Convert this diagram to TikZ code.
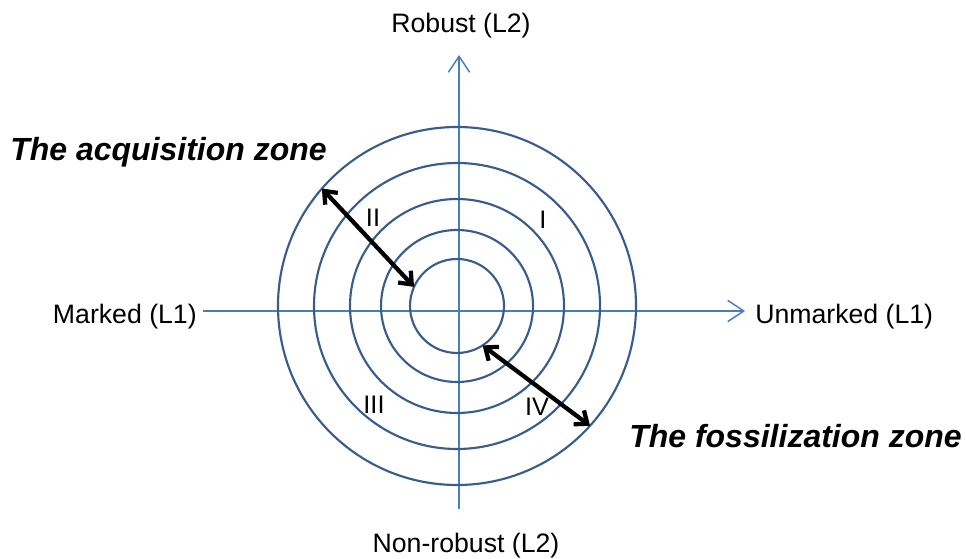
\documentclass[tikz,border=0pt]{standalone}
\usepackage{fontspec}
\setmainfont{Liberation Sans}
\usetikzlibrary{arrows.meta}
\definecolor{axisblue}{HTML}{4A7EBB}
\definecolor{ringblue}{HTML}{385D8A}

\begin{document}
\begin{tikzpicture}[x=0.75pt,y=0.75pt]
\tikzstyle{ring}=[circle,draw=ringblue,line width=1.6pt,inner sep=0pt,outer sep=0pt]
\tikzstyle{axis}=[draw=axisblue,line width=1.1pt,-{Straight Barb[length=12pt,width=16pt,line width=1.1pt]}]
\tikzstyle{zone}=[black,line width=3.2pt,{Straight Barb[length=8pt,width=13pt]}-{Straight Barb[length=8pt,width=13pt]}]
\tikzstyle{lbl}=[inner sep=0pt,font=\fontsize{20}{24}\selectfont]
\tikzstyle{num}=[inner sep=0pt,font=\fontsize{19}{22}\selectfont]
\tikzstyle{title}=[inner sep=0pt,font=\fontsize{24}{28}\selectfont\bfseries\itshape]
\useasboundingbox (0,0) rectangle (966,559);
% axes
\coordinate (west) at (203,248);
\coordinate (east) at (745,248);
\coordinate (south) at (459,50);
\coordinate (north) at (459,504);
\draw[axis] (west) -- (east);
\draw[axis] (south) -- (north);
% rings
\coordinate (O) at (457,253);
\node[ring,minimum size=268.5pt] (ring5) at (O) {};
\node[ring,minimum size=214.5pt] (ring4) at (O) {};
\node[ring,minimum size=160.5pt] (ring3) at (O) {};
\node[ring,minimum size=114pt] (ring2) at (O) {};
\node[ring,minimum size=70.5pt] (ring1) at (O) {};
% labels
\node[lbl,anchor=base] (robust) at (461,526) {Robust (L2)};
\node[lbl,anchor=base] (nonrobust) at (466,6) {Non-robust (L2)};
\node[lbl,anchor=base east] (marked) at (197,235) {Marked (L1)};
\node[lbl,anchor=base west] (unmarked) at (755,235) {Unmarked (L1)};
\node[num] (q1) at (543,339) {I};
\node[num] (q2) at (373,341) {II};
\node[num] (q3) at (374,154) {III};
\node[num] (q4) at (537,152) {IV};
% zones
\node[title,anchor=base west] (acq) at (10,398) {The acquisition zone};
\node[title,anchor=base east] (fos) at (962,111) {The fossilization zone};
\draw[zone] (ring5.139) -- (ring1.156);
\draw[zone] (ring1.-57) -- (ring5.-42.5);
\end{tikzpicture}
\end{document}
